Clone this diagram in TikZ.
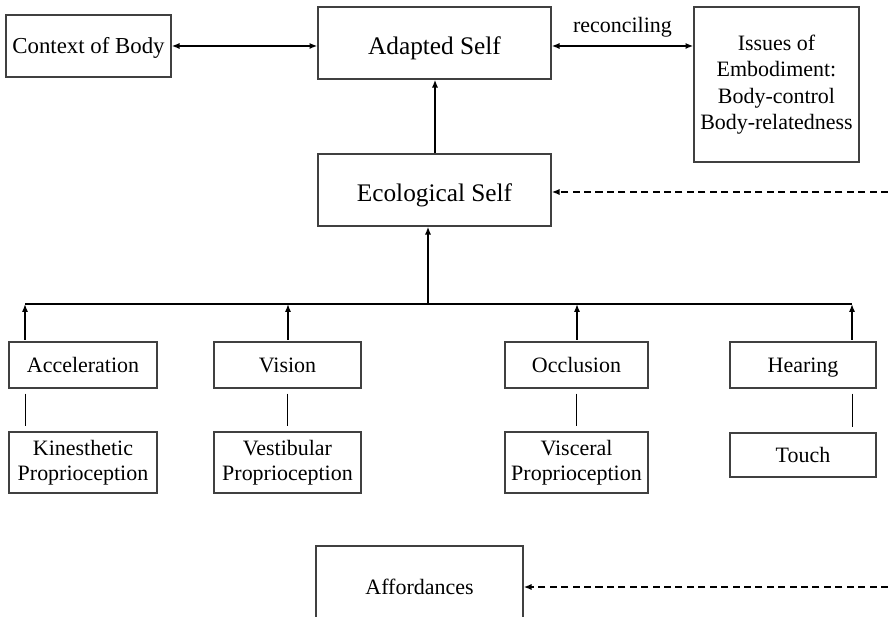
\documentclass[tikz,border=0pt]{standalone}
\usepackage{fontspec}
\setmainfont{Liberation Serif}
\usetikzlibrary{arrows.meta, calc}

\begin{document}
\begin{tikzpicture}[
    x=0.02cm, y=-0.02cm,
    >={Latex[length=4.5pt, width=3.5pt]},
    line width=1.1pt,
    box/.style={draw=black!75, line width=0.7pt, inner sep=2pt, align=center, font=\fontsize{12.5}{14.5}\selectfont},
    oneline/.style={box, text height=9pt, text depth=1pt},
    selfbox/.style={box, text height=13.6pt, text depth=1pt, minimum width=4.66cm, minimum height=1.44cm, font=\fontsize{14.4}{17}\selectfont},
    sense/.style={oneline, minimum width=#1, minimum height=0.92cm},
    proprio/.style={box, minimum width=#1, minimum height=1.22cm},
    link/.style={line width=0.7pt, shorten <=2.8pt, shorten >=2.8pt},
    feed/.style={->, dashed, dash pattern=on 4pt off 2.5pt}
]
    \useasboundingbox (0,0) rectangle (888,617);
    \clip (0,0) rectangle (888,617);

    % Top row
    \node[oneline, minimum width=3.3cm, minimum height=1.24cm, font=\fontsize{13}{15}\selectfont] (ctx) at (88.5,46) {Context of Body};
    \node[selfbox] (adapted) at (434.5,43) {Adapted Self};
    \node[box, minimum width=3.3cm, minimum height=3.1cm, font=\fontsize{12.5}{15}\selectfont] (issues) at (776.5,84.5) {Issues of\\Embodiment:\\Body-control\hspace*{0.5em}\\Body-relatedness};

    % Ecological self
    \node[selfbox] (ecol) at (434.5,190) {Ecological Self};

    % Senses
    \node[sense=2.96cm] (acc) at (83,365) {Acceleration};
    \node[sense=2.94cm] (vis) at (287.5,365) {Vision};
    \node[sense=2.86cm] (occ) at (576.5,365) {Occlusion};
    \node[sense=2.92cm] (hear) at (803,365) {Hearing};

    % Proprioception row
    \node[proprio=2.96cm] (kin) at (83,462.5) {Kinesthetic\\Proprioception};
    \node[proprio=2.94cm] (vest) at (287.5,462.5) {Vestibular\\Proprioception};
    \node[proprio=2.86cm] (visc) at (576.5,462.5) {Visceral\\Proprioception};
    \node[oneline, minimum width=2.92cm, minimum height=0.88cm] (touch) at (803,455) {Touch};

    % Affordances (cut at the bottom)
    \node[oneline, minimum width=4.14cm, minimum height=1.64cm] (aff) at (419.5,587) {Affordances};

    % Bus line and free ends
    \coordinate (busL) at (25,304);
    \coordinate (busR) at (852,304);
    \coordinate (busM) at (428,304);
    \coordinate (stem) at (435,120);
    \coordinate (edgeE) at (888,192);
    \coordinate (edgeA) at (888,587);

    % Connections at the top
    \draw[<->] (ctx.east) -- (ctx.east -| adapted.west);
    \draw[<->] (adapted.east |- ctx.east) -- (issues.west |- ctx.east)
        node[midway, above=1pt, font=\fontsize{12.5}{14.5}\selectfont] {reconciling};
    \draw[->] (ecol.north -| stem) -- (adapted.south -| stem);
    \draw[->] (busM) -- (busM |- ecol.south);

    % Bus
    \draw[line width=0.6pt] (busL) -- (busR);
    \draw[->, shorten <=1pt] (acc.north -| busL) -- (busL);
    \draw[->, shorten <=1pt] ([xshift=0.01cm]vis.north) -- ([xshift=0.01cm]vis.north |- busL);
    \draw[->, shorten <=1pt] ([xshift=0.01cm]occ.north) -- ([xshift=0.01cm]occ.north |- busL);
    \draw[->, shorten <=1pt] (hear.north -| busR) -- (busR);

    % Sense to proprioception
    \draw[link] ([xshift=0.01cm]acc.south -| busL) -- ([xshift=0.01cm]kin.north -| busL);
    \draw[link] (vis.south) -- (vest.north);
    \draw[link] (occ.south) -- (visc.north);
    \draw[link] ([xshift=0.01cm]hear.south -| busR) -- ([xshift=0.01cm]touch.north -| busR);

    % Dashed feedback from the right
    \draw[feed] (edgeE) -- (ecol.east |- edgeE);
    \draw[feed] (edgeA) -- (aff.east);

\end{tikzpicture}
\end{document}
